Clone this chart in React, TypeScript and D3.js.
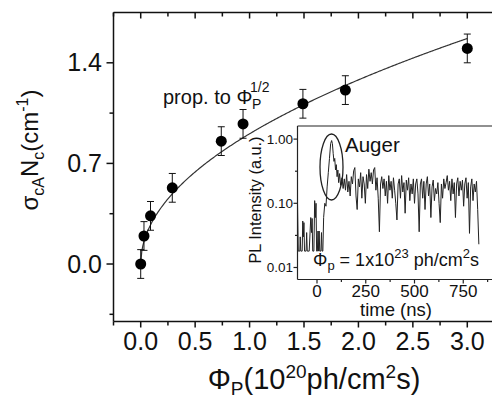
import { useMemo } from 'react';
import * as d3 from 'd3';

// main panel: capture rate vs photon flux
const fluxVals = [0.0, 0.03, 0.09, 0.29, 0.74, 0.94, 1.49, 1.88, 3.0];
const sigmaVals = [0.0, 0.195, 0.335, 0.53, 0.855, 0.975, 1.115, 1.21, 1.5];
const sigmaErr = [0.1, 0.1, 0.1, 0.1, 0.1, 0.1, 0.1, 0.1, 0.1];
const fitCoef = 0.906; // prop. to sqrt(flux)
const xTicks = [0, 0.5, 1, 1.5, 2, 2.5, 3];
const xMinor = [-0.25, 0.25, 0.75, 1.25, 1.75, 2.25, 2.75, 3.25];
const yTicks = [0, 0.7, 1.4];
const yMinor = [-0.35, 0.35, 1.05];

// inset: PL transient
const plTime = [
  -100, -96, -88, -86, -83, -76, -73, -70, -67, -64, -56, -53, -50, -40, -32, -28, -25, -22, -16, -12,
  -8, -5, -2, 2, 5, 8, 11, 14, 20, 23, 26, 30, 34, 40, 46, 52, 58, 64, 70, 75,
  79, 83, 87, 91, 95, 99, 103, 107, 111, 116, 121, 128, 134, 140, 146, 152, 158, 164, 170, 176,
  182, 188, 194, 200, 206, 212, 218, 224, 230, 236, 242, 248, 254, 260, 266, 272, 278, 284, 290, 296,
  302, 308, 314, 320, 326, 332, 338, 344, 350, 356, 362, 368, 374, 380, 386, 392, 398, 404, 410, 416,
  422, 428, 434, 440, 446, 452, 458, 464, 470, 476, 482, 488, 494, 500, 506, 512, 518, 524, 530, 536,
  542, 548, 554, 560, 566, 572, 578, 584, 590, 596, 602, 608, 614, 620, 626, 632, 638, 644, 650, 656,
  662, 668, 674, 680, 686, 692, 698, 704, 710, 716, 722, 728, 734, 740, 746, 752, 758, 764, 770, 776,
  782, 788, 794, 800, 806, 812, 818, 824, 830,
];
const plIntensity = [
  0.1, 0.018, 0.018, 0.03, 0.018, 0.018, 0.053, 0.03, 0.05, 0.018, 0.018, 0.035, 0.018, 0.018, 0.06, 0.035, 0.058, 0.018, 0.018, 0.11,
  0.06, 0.1, 0.018, 0.018, 0.037, 0.018, 0.037, 0.018, 0.018, 0.035, 0.018, 0.018, 0.06, 0.1, 0.09, 0.18, 0.3, 0.5, 0.85, 0.95,
  0.85, 0.6, 0.45, 0.5, 0.33, 0.4, 0.26, 0.33, 0.21, 0.29, 0.19, 0.25, 0.17, 0.24, 0.16, 0.28, 0.15, 0.22, 0.13, 0.26,
  0.2, 0.32, 0.36, 0.13, 0.08, 0.24, 0.18, 0.3, 0.12, 0.26, 0.2, 0.1, 0.28, 0.17, 0.34, 0.22, 0.3, 0.2, 0.33, 0.36,
  0.16, 0.25, 0.12, 0.036, 0.2, 0.26, 0.17, 0.24, 0.13, 0.22, 0.1, 0.27, 0.16, 0.22, 0.12, 0.25, 0.16, 0.1, 0.055, 0.2,
  0.24, 0.12, 0.27, 0.15, 0.21, 0.07, 0.23, 0.16, 0.25, 0.11, 0.2, 0.14, 0.24, 0.1, 0.2, 0.24, 0.14, 0.036, 0.2, 0.24,
  0.12, 0.22, 0.08, 0.2, 0.26, 0.13, 0.2, 0.06, 0.18, 0.23, 0.11, 0.17, 0.14, 0.21, 0.1, 0.05, 0.2, 0.12, 0.24, 0.17,
  0.21, 0.27, 0.16, 0.22, 0.11, 0.24, 0.14, 0.21, 0.06, 0.2, 0.25, 0.13, 0.22, 0.16, 0.23, 0.09, 0.2, 0.25, 0.12, 0.21,
  0.034, 0.18, 0.24, 0.11, 0.2, 0.15, 0.22, 0.08, 0.023,
];
const insetXTicks = [0, 250, 500, 750];
const insetXMinor = [125, 375, 625, 875];
const insetYTicks = [1, 0.1, 0.01];
const insetYLabels = ['1.00', '0.10', '0.01'];
const insetYMinor = [0.316, 0.0316];

const FONT = '"Liberation Sans", Arial, Helvetica, sans-serif';

const App = () => {
  const x = d3.scaleLinear().domain([-0.25, 3.25]).range([113.5, 494.5]);
  const y = d3.scaleLinear().domain([-0.4, 1.75]).range([321.5, 12.5]);

  const ix = d3.scaleLinear().domain([-100, 900]).range([297.5, 492.5]);
  const iy = d3.scaleLog().domain([0.0065, 1.6]).range([279.5, 126]);

  const fitPath = useMemo(() => {
    const xs = d3.range(0, 3.0001, 0.01);
    return d3.line<number>()
      .x((d) => x(d))
      .y((d) => y(fitCoef * Math.sqrt(d)))(xs);
  }, []);

  const plPath = useMemo(() => {
    return d3.line<number>()
      .x((d, i) => ix(plTime[i]))
      .y((d) => iy(d))(plIntensity);
  }, []);

  const [x0, x1] = x.range();
  const [yb, yt] = y.range();

  return (
    <svg width={492} height={401} style={{ position: 'absolute', left: 0, top: 0, background: '#fff' }} fontFamily={FONT}>
      <rect width={492} height={401} fill="#fff" />

      {/* main frame */}
      <g stroke="#111" strokeWidth={1.5} fill="none">
        <line x1={x0} x2={x0} y1={yt} y2={yb} />
        <line x1={x0} x2={x1} y1={yb} y2={yb} />
        <line x1={x0} x2={x1} y1={yt} y2={yt} />
        {xTicks.map((t) => (
          <g key={'xt' + t}>
            <line x1={x(t)} x2={x(t)} y1={yb} y2={yb + 6} />
            <line x1={x(t)} x2={x(t)} y1={yt} y2={yt + 6} />
          </g>
        ))}
        {xMinor.map((t) => (
          <g key={'xm' + t}>
            <line x1={x(t)} x2={x(t)} y1={yb} y2={yb + 4} />
            <line x1={x(t)} x2={x(t)} y1={yt} y2={yt + 4} />
          </g>
        ))}
        {yTicks.map((t) => (
          <line key={'yt' + t} x1={x0 - 7} x2={x0} y1={y(t)} y2={y(t)} />
        ))}
        {yMinor.map((t) => (
          <line key={'ym' + t} x1={x0 - 4} x2={x0} y1={y(t)} y2={y(t)} />
        ))}
      </g>

      {xTicks.map((t) => (
        <text key={'xl' + t} x={x(t)} y={350} fontSize={25} textAnchor="middle" fill="#111">
          {t.toFixed(1)}
        </text>
      ))}
      {yTicks.map((t) => (
        <text key={'yl' + t} x={102} y={y(t) + 8.5} fontSize={25} textAnchor="end" fill="#111">
          {t.toFixed(1)}
        </text>
      ))}

      {/* x label */}
      <text x={314} y={389} fontSize={29} textAnchor="middle" fill="#111">
        Φ
        <tspan fontSize={19} dy={6}>P</tspan>
        <tspan dy={-6}>(10</tspan>
        <tspan fontSize={19} dy={-11}>20</tspan>
        <tspan dy={11}>ph/cm</tspan>
        <tspan fontSize={19} dy={-11}>2</tspan>
        <tspan dy={11}>s)</tspan>
      </text>

      {/* y label */}
      <text transform="translate(38,150) rotate(-90)" fontSize={24} textAnchor="middle" fill="#111">
        σ
        <tspan fontSize={16} dy={6}>cA</tspan>
        <tspan dy={-6}>N</tspan>
        <tspan fontSize={16} dy={6}>c</tspan>
        <tspan dy={-6}>(cm</tspan>
        <tspan fontSize={16} dy={-10}>-1</tspan>
        <tspan dy={10}>)</tspan>
      </text>

      {/* fit */}
      <path d={fitPath ?? ''} fill="none" stroke="#333" strokeWidth={1.2} />

      {/* points with error bars */}
      <g stroke="#111" strokeWidth={1}>
        {fluxVals.map((v, i) => {
          const cx = x(v);
          const top = y(sigmaVals[i] + sigmaErr[i]);
          const bot = y(sigmaVals[i] - sigmaErr[i]);
          return (
            <g key={'p' + i}>
              <line x1={cx} x2={cx} y1={top} y2={bot} />
              <line x1={cx - 3.5} x2={cx + 3.5} y1={top} y2={top} />
              <line x1={cx - 3.5} x2={cx + 3.5} y1={bot} y2={bot} />
              <circle cx={cx} cy={y(sigmaVals[i])} r={5.5} fill="#000" stroke="none" />
            </g>
          );
        })}
      </g>

      <text x={163} y={104} fontSize={20} fill="#111">prop. to Φ</text>
      <text x={250} y={92} fontSize={14} fill="#111">1/2</text>
      <text x={252} y={109} fontSize={14} fill="#111">P</text>

      {/* inset */}
      <rect x={297.5} y={126} width={200} height={153.5} fill="#fff" />
      <path d={plPath ?? ''} fill="none" stroke="#222" strokeWidth={1} strokeLinejoin="round" />
      <g stroke="#222" strokeWidth={1.2} fill="none">
        <line x1={297.5} x2={297.5} y1={126} y2={279.5} />
        <line x1={297.5} x2={492} y1={126} y2={126} />
        <line x1={297.5} x2={492} y1={279.5} y2={279.5} />
        {insetXTicks.map((t) => (
          <line key={'ixt' + t} x1={ix(t)} x2={ix(t)} y1={279.5} y2={283.5} />
        ))}
        {insetXMinor.map((t) => (
          <line key={'ixm' + t} x1={ix(t)} x2={ix(t)} y1={279.5} y2={282} />
        ))}
        {insetYTicks.map((t) => (
          <line key={'iyt' + t} x1={293.5} x2={297.5} y1={iy(t)} y2={iy(t)} />
        ))}
        {insetYMinor.map((t) => (
          <line key={'iym' + t} x1={295} x2={297.5} y1={iy(t)} y2={iy(t)} />
        ))}
        <ellipse cx={331.5} cy={167} rx={11.5} ry={33} strokeWidth={1.3} />
      </g>
      {insetXTicks.map((t) => (
        <text key={'ixl' + t} x={ix(t)} y={297} fontSize={17} textAnchor="middle" fill="#111">
          {t}
        </text>
      ))}
      <text x={396} y={316} fontSize={18.5} textAnchor="middle" fill="#111">time (ns)</text>
      {insetYTicks.map((t, i) => (
        <text key={'iyl' + t} x={293} y={iy(t) + 5} fontSize={13.5} textAnchor="end" fill="#111">
          {insetYLabels[i]}
        </text>
      ))}
      <text transform="translate(261,200) rotate(-90)" fontSize={16.3} textAnchor="middle" fill="#111">
        PL Intensity (a.u.)
      </text>
      <text x={345} y={152} fontSize={20.5} fill="#111">Auger</text>
      <text x={313} y={266} fontSize={18} fill="#111">
        Φ
        <tspan fontSize={13} dy={4}>p</tspan>
        <tspan dy={-4}> = 1x10</tspan>
        <tspan fontSize={13} dy={-8}>23</tspan>
        <tspan dy={8}> ph/cm</tspan>
        <tspan fontSize={13} dy={-8}>2</tspan>
        <tspan dy={8}>s</tspan>
      </text>
    </svg>
  );
};

export default App;
